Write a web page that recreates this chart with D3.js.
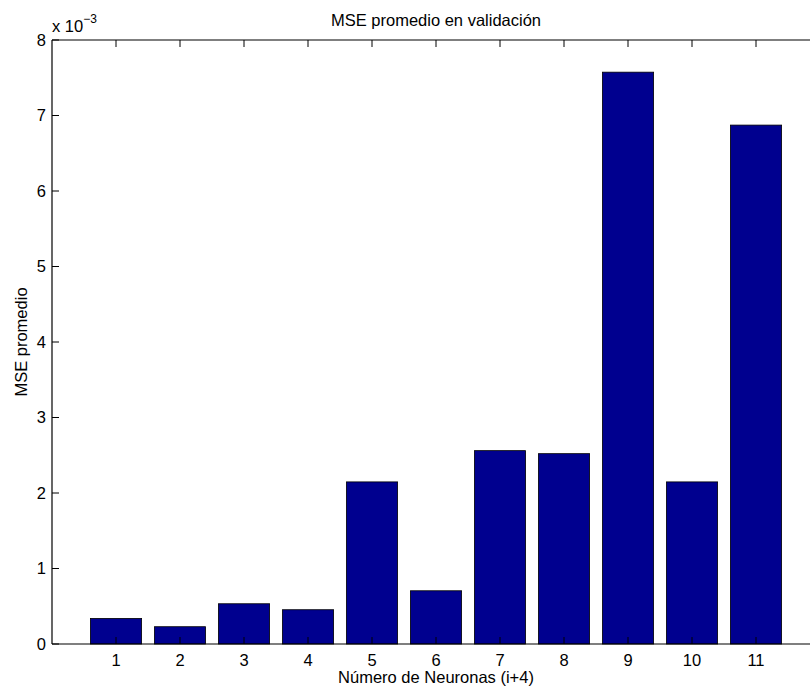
<!DOCTYPE html>
<html>
<head>
<meta charset="utf-8">
<script src="https://cdn.jsdelivr.net/npm/d3@7"></script>
<style>
  html, body { margin: 0; padding: 0; background: #fff; }
  svg { display: block; font-family: "Liberation Sans", Arial, Helvetica, sans-serif; }
</style>
</head>
<body>
<svg id="chart" width="810" height="690"></svg>
<script>
// Number of neurons index (i) and mean validation MSE (in units of 1e-3)
const categories = [1, 2, 3, 4, 5, 6, 7, 8, 9, 10, 11];
const mseValues = [0.339, 0.229, 0.533, 0.454, 2.147, 0.705, 2.561, 2.521, 7.574, 2.147, 6.873];
const yTicks = [0, 1, 2, 3, 4, 5, 6, 7, 8];

const titleText = "MSE promedio en validación";
const xLabelText = "Número de Neuronas (i+4)";
const yLabelText = "MSE promedio";

const svg = d3.select("#chart");
const plotL = 52, plotR = 820, plotT = 40, plotB = 644;
const tickLen = 7;

const x = d3.scaleLinear().domain([0, 12]).range([plotL, plotR]);
const y = d3.scaleLinear().domain([0, 8]).range([plotB, plotT]);
const barW = (x(1) - x(0)) * 0.8;

// bars
svg.append("g").selectAll("rect")
  .data(categories)
  .join("rect")
  .attr("x", (d) => x(d) - barW / 2)
  .attr("width", barW)
  .attr("y", (d, i) => y(mseValues[i]))
  .attr("height", (d, i) => y(0) - y(mseValues[i]))
  .attr("fill", "#00008f")
  .attr("stroke", "#000")
  .attr("stroke-width", 0.8);

// axis frame (box)
const frame = svg.append("g").attr("stroke", "#000").attr("stroke-width", 1.2).attr("fill", "none");
frame.append("line").attr("x1", plotL).attr("x2", plotR).attr("y1", plotB).attr("y2", plotB);
frame.append("line").attr("x1", plotL).attr("x2", plotR).attr("y1", plotT).attr("y2", plotT);
frame.append("line").attr("x1", plotL).attr("x2", plotL).attr("y1", plotT).attr("y2", plotB);
frame.append("line").attr("x1", plotR).attr("x2", plotR).attr("y1", plotT).attr("y2", plotB);

// x ticks (inward, bottom and top) and labels
const xt = svg.append("g");
xt.selectAll("line.b").data(categories).join("line")
  .attr("class", "b")
  .attr("x1", (d) => x(d)).attr("x2", (d) => x(d))
  .attr("y1", plotB).attr("y2", plotB - tickLen)
  .attr("stroke", "#000").attr("stroke-width", 1);
xt.selectAll("line.t").data(categories).join("line")
  .attr("class", "t")
  .attr("x1", (d) => x(d)).attr("x2", (d) => x(d))
  .attr("y1", plotT).attr("y2", plotT + tickLen)
  .attr("stroke", "#000").attr("stroke-width", 1);
xt.selectAll("text").data(categories).join("text")
  .attr("x", (d) => x(d)).attr("y", 666)
  .attr("text-anchor", "middle")
  .attr("font-size", 16.5)
  .text((d) => d);

// y ticks (inward) and labels
const yt = svg.append("g");
yt.selectAll("line.l").data(yTicks).join("line")
  .attr("class", "l")
  .attr("x1", plotL).attr("x2", plotL + tickLen)
  .attr("y1", (d) => y(d)).attr("y2", (d) => y(d))
  .attr("stroke", "#000").attr("stroke-width", 1);
yt.selectAll("line.r").data(yTicks).join("line")
  .attr("class", "r")
  .attr("x1", plotR).attr("x2", plotR - tickLen)
  .attr("y1", (d) => y(d)).attr("y2", (d) => y(d))
  .attr("stroke", "#000").attr("stroke-width", 1);
yt.selectAll("text").data(yTicks).join("text")
  .attr("x", 46).attr("y", (d) => y(d))
  .attr("dy", "0.36em")
  .attr("text-anchor", "end")
  .attr("font-size", 16.5)
  .text((d) => d);

// exponent multiplier
const mult = svg.append("text").attr("x", 52).attr("y", 32).attr("font-size", 16.5);
mult.append("tspan").text("x 10");
mult.append("tspan").attr("dy", -9).attr("font-size", 12).text("−3");

// title
svg.append("text")
  .attr("x", (plotL + plotR) / 2).attr("y", 26)
  .attr("text-anchor", "middle").attr("font-size", 16.5)
  .text(titleText);

// x label
svg.append("text")
  .attr("x", (plotL + plotR) / 2).attr("y", 683)
  .attr("text-anchor", "middle").attr("font-size", 16.5)
  .text(xLabelText);

// y label
svg.append("text")
  .attr("transform", `translate(27, ${(plotT + plotB) / 2}) rotate(-90)`)
  .attr("text-anchor", "middle").attr("font-size", 16.5)
  .text(yLabelText);
</script>
</body>
</html>
